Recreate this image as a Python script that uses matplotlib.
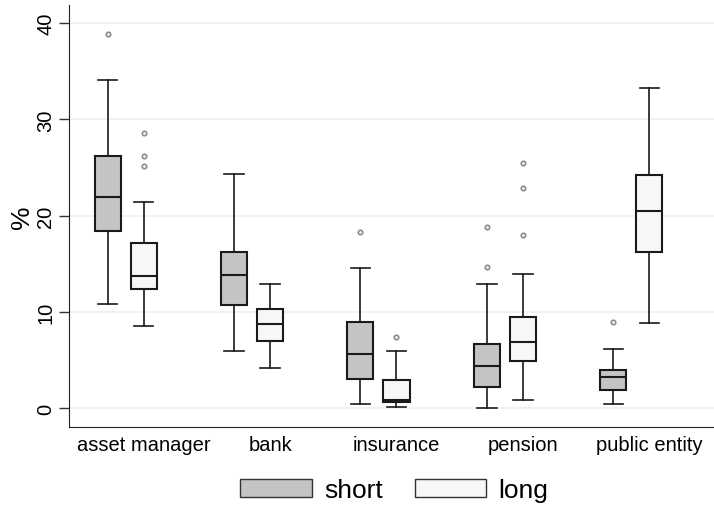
import matplotlib
matplotlib.use("Agg")
import matplotlib.pyplot as plt
from matplotlib.patches import Patch

plt.rcParams['font.family'] = ['Liberation Sans', 'DejaVu Sans']

# categories and box statistics (%)
groups = ['asset manager', 'bank', 'insurance', 'pension', 'public entity']

short_whislo = [10.8, 5.9, 0.45, 0.03, 0.42]
short_q1 = [18.4, 10.7, 3.05, 2.2, 1.9]
short_med = [21.9, 13.86, 5.58, 4.4, 3.22]
short_q3 = [26.2, 16.2, 8.97, 6.69, 3.98]
short_whishi = [34.1, 24.3, 14.6, 12.86, 6.13]
short_out = [[38.9], [], [18.3], [18.8, 14.7], [8.9]]

long_whislo = [8.5, 4.2, 0.07, 0.8, 8.8]
long_q1 = [12.4, 7.0, 0.59, 4.92, 16.25]
long_med = [13.7, 8.7, 0.87, 6.9, 20.5]
long_q3 = [17.15, 10.26, 2.88, 9.46, 24.25]
long_whishi = [21.45, 12.9, 5.96, 13.96, 33.3]
long_out = [[28.55, 26.2, 25.2], [], [7.4], [25.5, 22.9, 18.0], []]

yticks = [0, 10, 20, 30, 40]

short_col = '#c4c4c4'
long_col = '#f7f7f7'
grid_col = '#e8efef'


def make_stats(lo, q1, med, q3, hi, out):
    stats = []
    for i in range(len(lo)):
        stats.append(dict(whislo=lo[i], q1=q1[i], med=med[i], q3=q3[i],
                          whishi=hi[i], fliers=out[i]))
    return stats


fig = plt.figure(figsize=(7.14, 5.06), dpi=100)
ax = fig.add_axes([0.097, 0.1547, 0.903, 0.8335])

off = 0.1425
bw = 0.206
pos_short = [i - off for i in range(len(groups))]
pos_long = [i + off for i in range(len(groups))]

for yv in yticks:
    ax.axhline(yv, color=grid_col, lw=1.1, zorder=0)

for stats, pos, col in [
        (make_stats(short_whislo, short_q1, short_med, short_q3, short_whishi, short_out), pos_short, short_col),
        (make_stats(long_whislo, long_q1, long_med, long_q3, long_whishi, long_out), pos_long, long_col)]:
    ax.bxp(stats, positions=pos, widths=bw, capwidths=0.153, patch_artist=True,
           showfliers=True, manage_ticks=False,
           boxprops=dict(facecolor=col, edgecolor='#1a1a1a', linewidth=1.5),
           medianprops=dict(color='#1a1a1a', linewidth=1.5),
           whiskerprops=dict(color='#1a1a1a', linewidth=1.2),
           capprops=dict(color='#1a1a1a', linewidth=1.2),
           flierprops=dict(marker='o', markersize=3.2, markerfacecolor='none',
                           markeredgecolor='#8a8a8a', markeredgewidth=1.2))

ax.set_xlim(-0.446, 4.654)
ax.set_ylim(-1.944, 41.9)

ax.set_xticks(pos_long)
ax.set_xticklabels(groups, fontsize=14.5)
ax.tick_params(axis='x', length=0, pad=6)

ax.set_yticks(yticks)
ax.set_yticklabels([str(v) for v in yticks], rotation=90, va='center', fontsize=14.5)
ax.tick_params(axis='y', length=7, width=1, color='#333333', pad=3)
ax.set_ylabel('%', fontsize=19, labelpad=2)

for s in ['top', 'right']:
    ax.spines[s].set_visible(False)
ax.spines['left'].set_color('#222222')
ax.spines['bottom'].set_color('#222222')

handles = [Patch(facecolor=short_col, edgecolor='#333333', linewidth=1.0, label='short'),
           Patch(facecolor=long_col, edgecolor='#333333', linewidth=1.0, label='long')]
fig.legend(handles=handles, loc='center', bbox_to_anchor=(0.5525, 0.029), ncol=2,
           frameon=False, fontsize=19, handlelength=2.7, handleheight=0.7,
           handletextpad=0.48, columnspacing=1.2, borderpad=0.1)

fig.savefig('out.png', dpi=100)
